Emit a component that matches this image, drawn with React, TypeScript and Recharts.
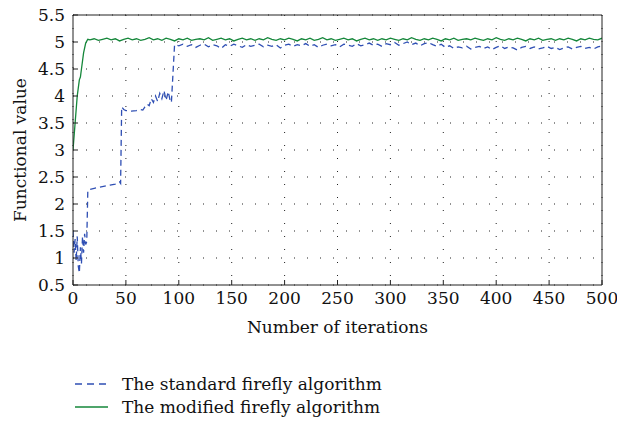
import { LineChart, Line, XAxis, YAxis, CartesianGrid } from 'recharts';

// Tick labels
const xTicks = [0, 50, 100, 150, 200, 250, 300, 350, 400, 450, 500];
const yTicks = [0.5, 1, 1.5, 2, 2.5, 3, 3.5, 4, 4.5, 5, 5.5];

// Standard firefly algorithm, first iterations (read point by point)
const standardEarlyIter = [
  0, 1, 2, 3, 4, 5, 6, 7, 8, 9, 10, 11, 12, 13, 14, 16, 20, 25, 30, 35, 40, 44, 45, 46, 48, 50,
  55, 60, 64, 66, 68, 70, 72, 74, 76, 78, 80, 82, 84, 86, 88, 90, 92, 93,
];
const standardEarlyValue = [
  1.5, 1.1, 1.35, 0.95, 1.4, 0.85, 0.72, 1.2, 0.9, 1.4, 1.1, 1.45, 1.25, 1.3, 2.25, 2.27, 2.29,
  2.31, 2.33, 2.35, 2.37, 2.41, 2.38, 3.8, 3.75, 3.73, 3.72, 3.73, 3.75, 3.74, 3.8, 3.85, 3.82,
  3.95, 3.88, 4.0, 3.9, 4.05, 3.95, 4.1, 3.92, 4.08, 3.9, 3.88,
];
// From iteration 96 on, one value every 4 iterations
const standardLateStart = 96;
const standardLateValue = [
  4.95, 4.93, 4.96, 4.92, 4.95, 4.9, 4.94, 4.96, 4.91, 4.95,
  4.93, 4.88, 4.95, 4.92, 4.96, 4.93, 4.9, 4.95, 4.92, 4.94,
  4.96, 4.91, 4.94, 4.92, 4.95, 4.89, 4.94, 4.96, 4.92, 4.95,
  4.93, 4.97, 4.92, 4.95, 4.9, 4.94, 4.96, 4.93, 4.95, 4.91,
  4.96, 4.94, 4.92, 4.97, 4.93, 4.95, 4.98, 4.94, 4.96, 4.92,
  4.97, 4.95, 4.99, 4.94, 4.97, 5.0, 4.95, 4.98, 4.93, 4.97,
  4.99, 4.95, 4.92, 4.96, 4.9, 4.93, 4.88, 4.91, 4.89, 4.92,
  4.87, 4.9, 4.92, 4.88, 4.91, 4.86, 4.9, 4.93, 4.88, 4.91,
  4.89, 4.85, 4.9, 4.92, 4.88, 4.91, 4.87, 4.89, 4.92, 4.88,
  4.9, 4.86, 4.89, 4.91, 4.87, 4.9, 4.92, 4.88, 4.9, 4.87,
  4.91, 4.93,
];

// Modified firefly algorithm
const modifiedEarlyIter = [0, 2, 4, 6, 7, 8, 10, 12, 14];
const modifiedEarlyValue = [3.0, 3.5, 4.0, 4.3, 4.35, 4.5, 4.8, 4.98, 5.05];
const modifiedLateStart = 16;
const modifiedLateValue = [
  5.04, 5.06, 5.03, 5.05, 5.07, 5.04, 5.06, 5.02, 5.05, 5.07,
  5.04, 5.06, 5.03, 5.05, 5.08, 5.04, 5.06, 5.03, 5.07, 5.05,
  5.02, 5.06, 5.04, 5.07, 5.03, 5.05, 5.06, 5.04, 5.08, 5.03,
  5.05, 5.07, 5.04, 5.06, 5.02, 5.05, 5.07, 5.04, 5.06, 5.03,
  5.06, 5.04, 5.08, 5.05, 5.03, 5.06, 5.04, 5.07, 5.05, 5.02,
  5.06, 5.04, 5.07, 5.03, 5.05, 5.08, 5.04, 5.06, 5.03, 5.05,
  5.07, 5.04, 5.06, 5.02, 5.05, 5.07, 5.04, 5.06, 5.03, 5.06,
  5.04, 5.07, 5.05, 5.03, 5.06, 5.04, 5.08, 5.05, 5.03, 5.06,
  5.04, 5.07, 5.05, 5.02, 5.06, 5.04, 5.07, 5.03, 5.05, 5.06,
  5.04, 5.07, 5.05, 5.03, 5.06, 5.04, 5.08, 5.05, 5.03, 5.06,
  5.04, 5.07, 5.05, 5.02, 5.06, 5.04, 5.07, 5.03, 5.05, 5.06,
  5.03, 5.06, 5.04, 5.07, 5.05, 5.02, 5.06, 5.04, 5.07, 5.05,
  5.04, 5.07,
];
const lateStep = 4;

const buildSeries = (earlyIter: number[], earlyValue: number[], lateStart: number, lateValue: number[]) => [
  ...earlyIter.map((it, i) => ({ iter: it, value: earlyValue[i] })),
  ...lateValue.map((v, i) => ({ iter: lateStart + i * lateStep, value: v })),
];

const standardData = buildSeries(standardEarlyIter, standardEarlyValue, standardLateStart, standardLateValue);
const modifiedData = buildSeries(modifiedEarlyIter, modifiedEarlyValue, modifiedLateStart, modifiedLateValue);

const FONT = '"DejaVu Serif", serif';
const FONT_SIZE = 17;
const BLUE = '#2f4fb4';
const GREEN = '#15873a';

function LegendBox() {
  const row = (dash: string | undefined, color: string, text: string) => (
    <div style={{ display: 'flex', alignItems: 'center', height: 23 }}>
      <svg width={62} height={10}>
        <line x1={15} y1={5} x2={48} y2={5} stroke={color} strokeWidth={1.5} strokeDasharray={dash} />
      </svg>
      <span style={{ fontFamily: FONT, fontSize: FONT_SIZE, color: '#111' }}>{text}</span>
    </div>
  );
  return (
    <div style={{ position: 'absolute', left: 60, top: 372 }}>
      {row('7 5', BLUE, 'The standard firefly algorithm')}
      {row(undefined, GREEN, 'The modified firefly algorithm')}
    </div>
  );
}

export default function App() {
  const tickStyle = { fontFamily: FONT, fontSize: FONT_SIZE, fill: '#111' };
  return (
    <div style={{ position: 'absolute', left: 0, top: 0, width: 617, height: 421, background: '#fff' }}>
      <LineChart width={617} height={421} margin={{ top: 14, right: 14, left: 13, bottom: 86 }}>
        <CartesianGrid
          stroke="#222"
          strokeDasharray="1 12"
          horizontalValues={yTicks}
          verticalValues={xTicks}
          xAxisId="bottom"
          yAxisId="left"
        />
        <XAxis
          xAxisId="bottom"
          dataKey="iter"
          type="number"
          domain={[0, 500]}
          ticks={xTicks}
          interval={0}
          allowDataOverflow
          height={50}
          stroke="#222"
          tickSize={-5}
          tickMargin={12}
          tick={tickStyle}
          label={{ value: 'Number of iterations', position: 'insideBottom', offset: 2, style: { ...tickStyle, textAnchor: 'middle' } }}
        />
        <XAxis
          xAxisId="top"
          orientation="top"
          dataKey="iter"
          type="number"
          domain={[0, 500]}
          ticks={xTicks}
          interval={0}
          height={1}
          stroke="#222"
          tickSize={-5}
          tickFormatter={() => ''}
        />
        <YAxis
          yAxisId="left"
          type="number"
          domain={[0.5, 5.5]}
          ticks={yTicks}
          interval={0}
          allowDataOverflow
          width={60}
          stroke="#222"
          tickSize={-5}
          tickMargin={13}
          tick={tickStyle}
          label={{ value: 'Functional value', angle: -90, position: 'insideLeft', offset: 7, style: { ...tickStyle, textAnchor: 'middle' } }}
        />
        <YAxis
          yAxisId="right"
          orientation="right"
          type="number"
          domain={[0.5, 5.5]}
          ticks={yTicks}
          interval={0}
          width={1}
          stroke="#222"
          tickSize={-5}
          tickFormatter={() => ''}
        />
        <Line
          xAxisId="bottom"
          yAxisId="left"
          data={standardData}
          dataKey="value"
          name="The standard firefly algorithm"
          stroke={BLUE}
          strokeWidth={1.3}
          strokeDasharray="6 4"
          dot={false}
          isAnimationActive={false}
        />
        <Line
          xAxisId="bottom"
          yAxisId="left"
          data={modifiedData}
          dataKey="value"
          name="The modified firefly algorithm"
          stroke={GREEN}
          strokeWidth={1.3}
          dot={false}
          isAnimationActive={false}
        />
      </LineChart>
      <LegendBox />
    </div>
  );
}
